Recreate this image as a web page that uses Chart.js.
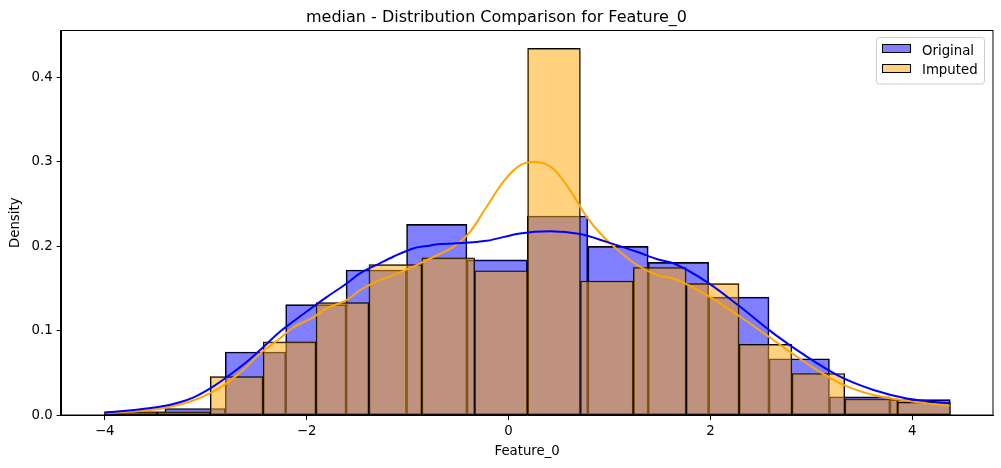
<!DOCTYPE html>
<html>
<head>
<meta charset="utf-8">
<script src="https://cdn.jsdelivr.net/npm/chart.js@4.4.1/dist/chart.umd.min.js"></script>
<style>
  html, body { margin: 0; padding: 0; background: #fff; }
  #wrap { width: 1001px; height: 468px; }
</style>
</head>
<body>
<div id="wrap"><canvas id="chartCanvas" width="1001" height="468"></canvas></div>
<script>
// histogram bins (density)
const origEdges = [-4.003, -3.404, -2.806, -2.207, -1.609, -1.010, -0.411, 0.187, 0.786, 1.384, 1.983, 2.581, 3.180, 3.778, 4.377];
const origDensity = [0.004, 0.008, 0.075, 0.131, 0.172, 0.226, 0.184, 0.236, 0.200, 0.181, 0.140, 0.067, 0.022, 0.0185];

const impEdges = [-4.003, -3.479, -2.955, -2.431, -1.907, -1.383, -0.859, -0.335, 0.189, 0.713, 1.237, 1.761, 2.285, 2.808, 3.332, 3.856, 4.377];
const impDensity = [0.004, 0.004, 0.0458, 0.087, 0.1335, 0.1785, 0.1865, 0.1712, 0.4345, 0.159, 0.175, 0.156, 0.084, 0.0495, 0.0195, 0.0154];

// kde curves
const origKdeX = [-4.00, -3.455, -3.256, -3.124, -2.926, -2.793, -2.595, -2.463, -2.265, -2.133, -1.935, -1.802, -1.604, -1.472, -1.274, -1.142, -0.944, -0.811, -0.679, -0.547, -0.216, 0.114, 0.411, 0.709, 0.973, 1.271, 1.502, 1.633, 1.964, 2.295, 2.625, 2.955, 3.286, 3.616, 3.946, 4.369];
const origKdeY = [0.003, 0.010, 0.0155, 0.021, 0.034, 0.045, 0.063, 0.077, 0.099, 0.111, 0.1285, 0.140, 0.156, 0.168, 0.180, 0.1877, 0.1976, 0.2004, 0.2027, 0.2035, 0.2066, 0.2154, 0.2178, 0.2146, 0.2054, 0.1936, 0.1838, 0.180, 0.158, 0.1285, 0.097, 0.0694, 0.0457, 0.030, 0.020, 0.0142];

const impKdeX = [-4.00, -3.455, -3.124, -2.926, -2.793, -2.595, -2.463, -2.265, -2.133, -1.935, -1.802, -1.604, -1.472, -1.274, -1.142, -0.944, -0.811, -0.679, -0.547, -0.382, -0.216, -0.052, 0.114, 0.263, 0.444, 0.610, 0.775, 0.940, 1.105, 1.271, 1.502, 1.633, 1.964, 2.295, 2.625, 2.955, 3.286, 3.616, 3.946, 4.369];
const impKdeY = [0.0024, 0.0078, 0.0175, 0.028, 0.038, 0.0575, 0.073, 0.091, 0.104, 0.116, 0.1266, 0.1364, 0.148, 0.160, 0.166, 0.176, 0.1838, 0.191, 0.1995, 0.217, 0.247, 0.2765, 0.296, 0.2998, 0.292, 0.2666, 0.235, 0.2114, 0.1936, 0.178, 0.165, 0.162, 0.1424, 0.1167, 0.0891, 0.0615, 0.0379, 0.024, 0.0173, 0.011];

const xTicks = [-4, -2, 0, 2, 4];
const yTicks = [0, 0.1, 0.2, 0.3, 0.4];
const seriesLabels = ["Original", "Imputed"];

const FONT = "'DejaVu Sans', 'Liberation Sans', sans-serif";

const toBars = (edges, dens) => dens.map((d, i) => ({ x: (edges[i] + edges[i + 1]) / 2, y: d }));
const toLine = (xs, ys) => xs.map((x, i) => ({ x: x, y: ys[i] }));

// matplotlib style legend box in the upper right corner
const boxLegend = {
    id: "boxLegend",
    afterDraw(chart) {
        const { ctx, chartArea } = chart;
        const w = 108, h = 46.5, r = 3;
        const x0 = Math.round(chartArea.right - 9 - w) + 0.5;
        const y0 = Math.round(chartArea.top + 7) + 0.5;
        ctx.save();
        ctx.beginPath();
        ctx.moveTo(x0 + r, y0);
        ctx.lineTo(x0 + w - r, y0);
        ctx.arcTo(x0 + w, y0, x0 + w, y0 + r, r);
        ctx.lineTo(x0 + w, y0 + h - r);
        ctx.arcTo(x0 + w, y0 + h, x0 + w - r, y0 + h, r);
        ctx.lineTo(x0 + r, y0 + h);
        ctx.arcTo(x0, y0 + h, x0, y0 + h - r, r);
        ctx.lineTo(x0, y0 + r);
        ctx.arcTo(x0, y0, x0 + r, y0, r);
        ctx.closePath();
        ctx.fillStyle = "rgba(255,255,255,0.8)";
        ctx.fill();
        ctx.strokeStyle = "#cccccc";
        ctx.lineWidth = 1;
        ctx.stroke();

        const bars = chart.data.datasets.filter(d => d.type === "bar");
        // legend follows plotting order: Original first
        bars.sort((a, b) => b.order - a.order);
        ctx.font = "13.3px " + FONT;
        ctx.textBaseline = "alphabetic";
        ctx.textAlign = "left";
        bars.forEach((ds, i) => {
            const py = y0 + 7 + i * 20;
            ctx.fillStyle = ds.backgroundColor;
            ctx.fillRect(x0 + 6, py, 28, 8);
            ctx.strokeStyle = "#000";
            ctx.strokeRect(x0 + 6, py, 28, 8);
            ctx.fillStyle = "#000";
            ctx.fillText(ds.label, x0 + 45.5, y0 + 17 + i * 19.3);
        });
        ctx.restore();
    }
};

// full frame (top/right spines too)
const frame = {
    id: "frame",
    afterDraw(chart) {
        const { ctx, chartArea: a } = chart;
        ctx.save();
        ctx.strokeStyle = "#000";
        ctx.lineWidth = 1;
        ctx.strokeRect(Math.round(a.left) - 0.5, Math.round(a.top) + 0.5, Math.round(a.right) - Math.round(a.left) + 0.5, Math.round(a.bottom) - Math.round(a.top) - 0.5);
        ctx.restore();
    }
};

const barStyle = {
    type: "bar",
    borderColor: "#000",
    borderWidth: 1,
    borderSkipped: false,
    barPercentage: 1,
    categoryPercentage: 1,
    grouped: false
};

const ctx = document.getElementById("chartCanvas").getContext("2d");
new Chart(ctx, {
    type: "bar",
    data: {
        datasets: [
            {
                type: "line",
                label: "kde_orig",
                data: toLine(origKdeX, origKdeY),
                borderColor: "#0000ff",
                borderWidth: 2,
                pointRadius: 0,
                fill: false,
                cubicInterpolationMode: "monotone",
                xAxisID: "x",
                order: 0
            },
            {
                type: "line",
                label: "kde_imp",
                data: toLine(impKdeX, impKdeY),
                borderColor: "#ffa500",
                borderWidth: 2,
                pointRadius: 0,
                fill: false,
                cubicInterpolationMode: "monotone",
                xAxisID: "x",
                order: 0
            },
            {
                ...barStyle,
                label: seriesLabels[1],
                data: toBars(impEdges, impDensity),
                backgroundColor: "rgba(255,165,0,0.5)",
                xAxisID: "x2",
                order: 1
            },
            {
                ...barStyle,
                label: seriesLabels[0],
                data: toBars(origEdges, origDensity),
                backgroundColor: "rgba(0,0,255,0.5)",
                xAxisID: "x",
                order: 2
            }
        ]
    },
    options: {
        responsive: false,
        animation: false,
        devicePixelRatio: 1,
        layout: { padding: { left: 0, right: 8, top: 0, bottom: 0 } },
        plugins: {
            legend: { display: false },
            tooltip: { enabled: false },
            title: {
                display: true,
                text: "median - Distribution Comparison for Feature_0",
                color: "#000",
                font: { family: FONT, size: 16, weight: "normal" },
                padding: { top: 8, bottom: 3 }
            }
        },
        scales: {
            x: {
                type: "linear",
                position: "bottom",
                min: -4.43,
                max: 4.80,
                offset: false,
                grid: { display: true, drawOnChartArea: false, drawTicks: true, tickLength: 4.7, tickColor: "#000", tickWidth: 1, offset: false },
                border: { display: true, color: "#000", width: 1 },
                afterBuildTicks: s => { s.ticks = xTicks.map(v => ({ value: v })); },
                afterFit: s => { s.height = 52.7; },
                ticks: {
                    color: "#000",
                    padding: 3.8,
                    maxRotation: 0,
                    autoSkip: false,
                    font: { family: FONT, size: 13.3 },
                    callback: v => (v < 0 ? "\u2212" : "") + Math.abs(v)
                },
                title: {
                    display: true,
                    text: "Feature_0",
                    color: "#000",
                    font: { family: FONT, size: 13.3 },
                    padding: { top: 0, bottom: 8.9 }
                }
            },
            x2: {
                type: "linear",
                display: false,
                min: -4.43,
                max: 4.80,
                offset: false,
                afterBuildTicks: s => { s.ticks = [{ value: 0 }]; }
            },
            y: {
                type: "linear",
                min: 0,
                max: 0.456,
                grid: { display: true, drawOnChartArea: false, drawTicks: true, tickLength: 4.7, tickColor: "#000", tickWidth: 1 },
                border: { display: true, color: "#000", width: 1 },
                afterBuildTicks: s => { s.ticks = yTicks.map(v => ({ value: v })); },
                afterFit: s => { s.width = 61.3; },
                ticks: {
                    color: "#000",
                    padding: 3.9,
                    font: { family: FONT, size: 13.3 },
                    callback: v => v.toFixed(1)
                },
                title: {
                    display: true,
                    text: "Density",
                    color: "#000",
                    font: { family: FONT, size: 13.3 },
                    padding: { top: 7.4, bottom: 0 }
                }
            }
        }
    },
    plugins: [frame, boxLegend]
});
</script>
</body>
</html>
